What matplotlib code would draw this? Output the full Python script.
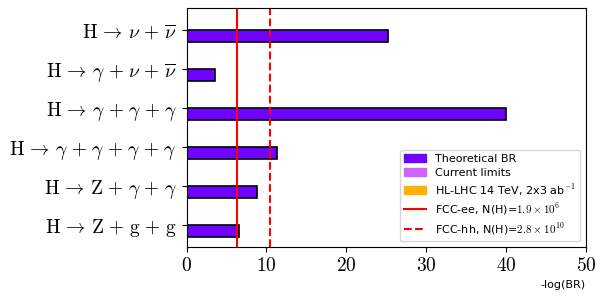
import matplotlib
matplotlib.use('Agg')
from matplotlib import pyplot as plt
from matplotlib.patches import Patch
from matplotlib.ticker import FuncFormatter
import numpy as np

plt.rcParams['mathtext.fontset'] = 'cm'

decays = [r'\mathrm{H} \rightarrow \mathrm{Z} + \mathrm{g} + \mathrm{g}',
          r'\mathrm{H} \rightarrow \mathrm{Z} + \gamma + \gamma',
          r'\mathrm{H} \rightarrow \gamma + \gamma + \gamma + \gamma',
          r'\mathrm{H} \rightarrow \gamma + \gamma + \gamma',
          r'\mathrm{H} \rightarrow \gamma + \nu + \overline{\nu}',
          r'\mathrm{H} \rightarrow \nu + \overline{\nu}']
theory = [6.5, 8.8, 11.3, 40.0, 3.5, 25.25]
fcc_ee = 6.3
fcc_hh = 10.45

# latex-like spacing around the operators
def spaced(s):
    s = s.replace(r'\rightarrow', r'\,\rightarrow\,')
    s = s.replace('+', r'\hspace{0.12}+\hspace{0.12}')
    return '$' + s + '$'

y = np.arange(len(decays))

fig = plt.figure(figsize=(6.04, 2.99), dpi=100)
ax = fig.add_axes([0.309, 0.175, 0.661, 0.797])

ax.barh(y, theory, height=-0.3, align='edge', color='#7000ff',
        edgecolor='black', linewidth=1.2)
ax.axvline(fcc_ee, color='red', linewidth=1.5)
ax.axvline(fcc_hh, color='red', linestyle='--', linewidth=1.5)

ax.set_yticks(y)
ax.set_yticklabels([spaced(d) for d in decays], fontsize=14)
ax.set_xlim(0, 50)
ax.set_ylim(-0.56, 5.55)
ax.set_xticks([0, 10, 20, 30, 40, 50])
ax.xaxis.set_major_formatter(FuncFormatter(lambda v, p: '$%d$' % v))
ax.tick_params(axis='x', labelsize=14)
ax.set_xlabel('-log(BR)', fontsize=8, loc='right', labelpad=3)

handles = [Patch(color='#7000ff', label='Theoretical BR'),
           Patch(color='#cc66ff', label='Current limits'),
           Patch(color='#ffb300', label=r'HL-LHC 14 TeV, 2x3 ab$^{-1}$'),
           plt.Line2D([], [], color='red', label=r'FCC-ee, N(H)=$1.9\times10^6$'),
           plt.Line2D([], [], color='red', linestyle='--', label=r'FCC-hh, N(H)=$2.8\times10^{10}$')]
ax.legend(handles=handles, loc='lower right', fontsize=8, labelspacing=0.35)

fig.savefig('out.png', dpi=100)
